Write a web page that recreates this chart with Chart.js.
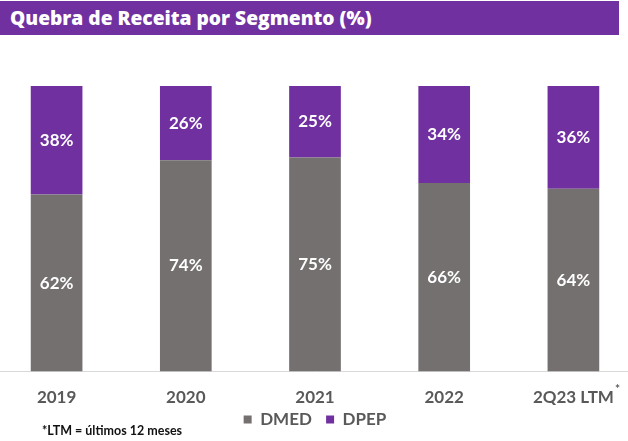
<!DOCTYPE html>
<html>
<head>
<meta charset="utf-8">
<script src="https://cdn.jsdelivr.net/npm/chart.js@4"></script>
<style>
    html, body { margin: 0; padding: 0; background: #fff; overflow: hidden; }
    body { width: 628px; height: 441px; position: relative; font-family: Lato, "Open Sans", sans-serif; }
    #title {
        position: absolute; left: 0; top: 1px; width: 619px; height: 34px;
        background: #7030A0; color: #fff; font-family: "Open Sans", sans-serif; font-weight: 800; font-size: 19.2px;
        line-height: 34px; padding-left: 10px; box-sizing: border-box;
    }
    #wrap { position: absolute; left: -8px; top: 36px; width: 646px; height: 405px; }
    #note { position: absolute; left: 42px; top: 423px; font-size: 12.5px; font-weight: bold; color: #111; }
</style>
</head>
<body>
<div id="title">Quebra de Receita por Segmento (%)</div>
<div id="wrap"><canvas id="chart"></canvas></div>
<div id="note">*LTM = últimos 12 meses</div>
<script>

const categories = ['2019', '2020', '2021', '2022', '2Q23 LTM'];
const dmed = [62, 74, 75, 66, 64];
const dpep = [38, 26, 25, 34, 36];

const textGray = '#595959';

// white % labels in the middle of each segment + the little asterisk on the last tick
const labelPlugin = {
    id: 'labels',
    afterDatasetsDraw(chart) {
        const ctx = chart.ctx;
        ctx.save();
        ctx.fillStyle = '#fff';
        ctx.font = 'bold 17px Lato';
        ctx.textAlign = 'center';
        ctx.textBaseline = 'middle';
        chart.data.datasets.forEach((ds, i) => {
            chart.getDatasetMeta(i).data.forEach((bar, j) => {
                let mid = (bar.y + bar.base) / 2;
                ctx.fillText(ds.data[j] + '%', bar.x, mid);
            });
        });
        ctx.restore();
    },
    afterDraw(chart) {
        const ctx = chart.ctx;
        const x = chart.scales.x;
        const last = categories.length - 1;
        ctx.save();
        ctx.font = 'bold 17px Lato';
        let w = ctx.measureText(categories[last]).width;
        let px = x.getPixelForValue(last) + w / 2 + 1;
        ctx.font = 'bold 12px Lato';
        ctx.fillStyle = textGray;
        ctx.textBaseline = 'top';
        ctx.fillText('*', px, x.top + 12);
        ctx.restore();
    }
};

new Chart(document.getElementById('chart'), {
    type: 'bar',
    data: {
        labels: categories,
        datasets: [
            { label: 'DMED', data: dmed, backgroundColor: '#747070' },
            { label: 'DPEP', data: dpep, backgroundColor: '#7030A0' }
        ]
    },
    options: {
        responsive: true,
        maintainAspectRatio: false,
        animation: false,
        layout: { padding: { top: 50, bottom: 3, left: 0, right: 0 } },
        categoryPercentage: 1,
        barPercentage: 0.4,
        plugins: {
            legend: {
                position: 'bottom',
                labels: {
                    boxWidth: 8, boxHeight: 8, padding: 6,
                    color: textGray,
                    font: { family: 'Lato', weight: 'bold', size: 17 },
                    // a bit more room between the two legend items
                    generateLabels(chart) {
                        let items = Chart.defaults.plugins.legend.labels.generateLabels(chart);
                        items.forEach((it, i) => { if (i < items.length - 1) it.text += '  '; });
                        return items;
                    }
                }
            },
            tooltip: { enabled: false }
        },
        scales: {
            x: {
                stacked: true,
                grid: { display: false, drawTicks: true, tickLength: 19 },
                border: { display: true, color: '#d9d9d9', width: 1 },
                ticks: {
                    color: textGray, padding: -3,
                    font: { family: 'Lato', weight: 'bold', size: 17 }
                }
            },
            y: {
                stacked: true,
                display: false,
                min: 0,
                max: 100
            }
        }
    },
    plugins: [labelPlugin]
});
</script>
</body>
</html>
